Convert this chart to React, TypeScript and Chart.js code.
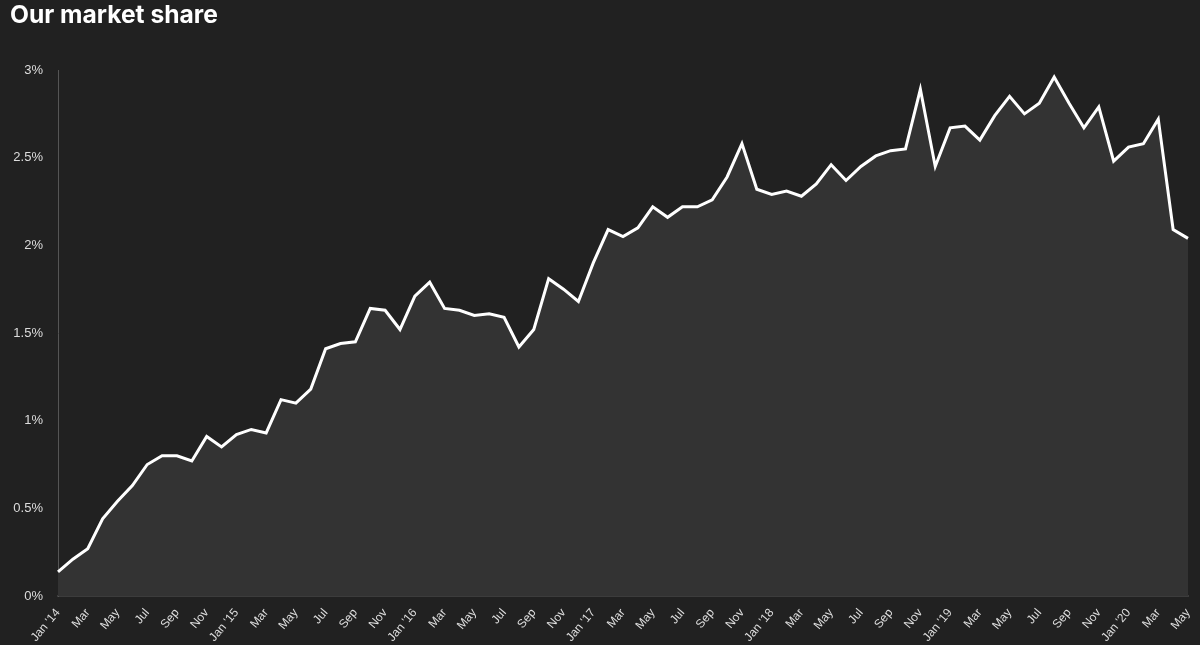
import React, { useEffect, useRef } from "react";
import { Chart, registerables } from "chart.js";

Chart.register(...registerables);

const monthNames = ["Jan", "Feb", "Mar", "Apr", "May", "Jun", "Jul", "Aug", "Sep", "Oct", "Nov", "Dec"];
const years = ["14", "15", "16", "17", "18", "19", "20"];
const monthCount = 77;

const categories: string[] = [];
for (let i = 0; i < monthCount; i++) {
  const m = i % 12;
  const y = Math.floor(i / 12);
  categories.push(m === 0 ? `Jan '${years[y]}` : monthNames[m]);
}

const shareValues = [
  0.137, 0.21, 0.27, 0.44, 0.54, 0.63, 0.75, 0.8, 0.8, 0.77, 0.91, 0.85,
  0.92, 0.95, 0.93, 1.12, 1.1, 1.18, 1.41, 1.44, 1.45, 1.64, 1.63, 1.52,
  1.71, 1.79, 1.64, 1.63, 1.6, 1.61, 1.59, 1.42, 1.52, 1.81, 1.75, 1.68,
  1.9, 2.09, 2.05, 2.1, 2.22, 2.16, 2.22, 2.22, 2.26, 2.39, 2.58, 2.32,
  2.29, 2.31, 2.28, 2.35, 2.46, 2.37, 2.45, 2.51, 2.54, 2.55, 2.89, 2.45,
  2.67, 2.68, 2.6, 2.74, 2.85, 2.75, 2.81, 2.96, 2.81, 2.67, 2.79, 2.48,
  2.56, 2.58, 2.72, 2.09, 2.04,
];

const yTicks = [0, 0.5, 1, 1.5, 2, 2.5, 3];

export default function App() {
  const canvasRef = useRef<HTMLCanvasElement | null>(null);

  useEffect(() => {
    document.body.style.margin = "0";
    document.body.style.background = "#212121";
    const canvas = canvasRef.current;
    if (!canvas) return;
    const chart = new Chart(canvas, {
      type: "line",
      data: {
        labels: categories,
        datasets: [
          {
            label: "Market share",
            data: shareValues,
            borderColor: "#ffffff",
            borderWidth: 3,
            backgroundColor: "#333333",
            fill: "origin",
            pointRadius: 0,
            tension: 0,
          },
        ],
      },
      options: {
        animation: false,
        responsive: true,
        maintainAspectRatio: false,
        layout: { padding: { left: 10, right: 12, top: 1, bottom: 0 } },
        plugins: {
          legend: { display: false },
          tooltip: { enabled: false },
          title: {
            display: true,
            text: "Our market share",
            align: "start",
            color: "#ffffff",
            font: { family: "Inter, 'Liberation Sans', sans-serif", size: 24.6, weight: "bold" },
            padding: { top: 0, bottom: 39.5 },
          },
        },
        scales: {
          x: {
            offset: false,
            grid: { display: false, drawTicks: false },
            border: { display: true, color: "#3c3c3c", width: 2 },
            afterFit: (axis: any) => {
              axis.height = 49;
              axis.paddingLeft = 0;
              axis.paddingRight = 0;
            },
            ticks: {
              autoSkip: false,
              minRotation: 50,
              maxRotation: 50,
              padding: 10,
              color: "#dddddd",
              font: { family: "'Liberation Sans', Arial, sans-serif", size: 12 },
              callback: (_v: any, i: number) => (i % 2 === 0 ? categories[i] : ""),
            },
          },
          y: {
            min: yTicks[0],
            max: yTicks[yTicks.length - 1],
            afterBuildTicks: (axis: any) => {
              axis.ticks = yTicks.map((v) => ({ value: v }));
            },
            afterFit: (axis: any) => {
              axis.width = 48;
            },
            grid: { display: false, drawTicks: false },
            border: { display: true, color: "#555555", width: 1 },
            ticks: {
              padding: 15,
              color: "#dddddd",
              font: { family: "'Liberation Sans', Arial, sans-serif", size: 13 },
              callback: (v: any) => `${v}%`,
            },
          },
        },
      },
    });
    return () => chart.destroy();
  }, []);

  return (
    <div style={{ width: 1200, height: 645, background: "#212121", position: "relative" }}>
      <canvas ref={canvasRef} />
    </div>
  );
}
